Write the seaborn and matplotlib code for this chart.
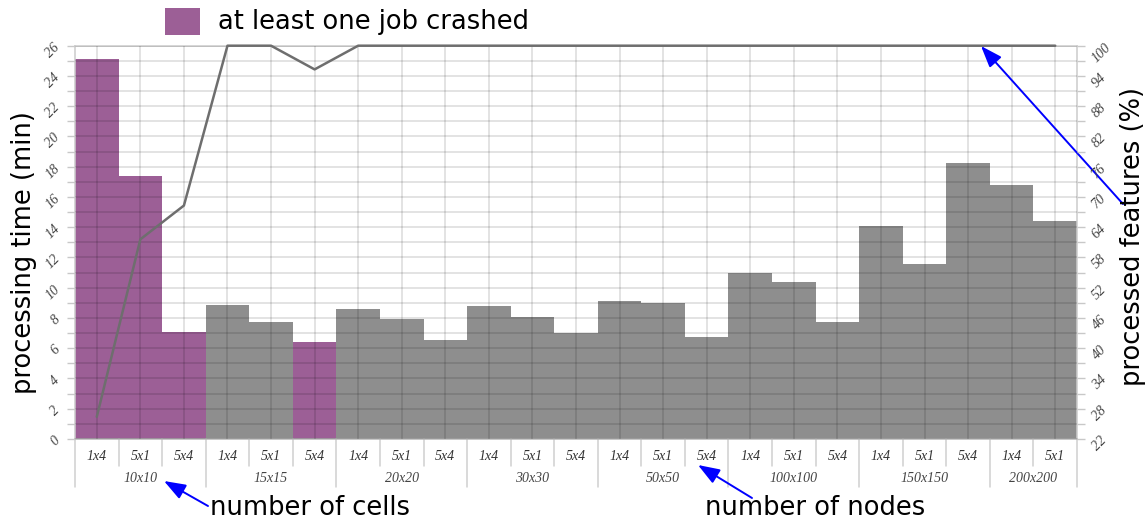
import matplotlib
matplotlib.use("Agg")
import matplotlib.pyplot as plt
from matplotlib.patches import Rectangle
from matplotlib.ticker import MultipleLocator, FixedLocator
import seaborn as sns
import pandas as pd
import numpy as np

# ---------------- data ----------------
cells = ["10x10", "15x15", "20x20", "30x30", "50x50", "100x100", "150x150", "200x200"]
nodes = ["1x4", "5x1", "5x4", "1x4", "5x1", "5x4", "1x4", "5x1", "5x4", "1x4", "5x1", "5x4",
         "1x4", "5x1", "5x4", "1x4", "5x1", "5x4", "1x4", "5x1", "5x4", "1x4", "5x1"]
group_sizes = [3, 3, 3, 3, 3, 3, 3, 2]
time_min = [25.1, 17.4, 7.05, 8.84, 7.73, 6.41, 8.57, 7.95, 6.54, 8.81, 8.04, 6.98,
            9.14, 9.02, 6.72, 10.95, 10.36, 7.71, 14.08, 11.55, 18.26, 16.81, 14.41]
crashed = [True, True, True, False, False, True, False, False, False, False, False, False,
           False, False, False, False, False, False, False, False, False, False, False]
features_pct = [26.4, 61.6, 68.3, 100, 100, 95.3, 100, 100, 100, 100, 100, 100,
                100, 100, 100, 100, 100, 100, 100, 100, 100, 100, 100]
left_ticks = list(range(0, 27, 2))
right_ticks = list(range(22, 101, 6))
legend_label = "at least one job crashed"

PURPLE = "#9c5f96"
GRAY = "#8e8e8e"
W, H = 1148, 519

df = pd.DataFrame({"idx": np.arange(len(time_min)), "time": time_min,
                   "crashed": crashed, "features": features_pct})

sns.set_style("white")
plt.rcParams["font.family"] = ["DejaVu Sans"]

fig = plt.figure(figsize=(W / 100, H / 100), dpi=100)
ax = fig.add_axes([75 / W, 1 - 439 / H, (1077 - 75) / W, (439 - 45.7) / H])

sns.barplot(data=df, x="idx", y="time", hue="crashed",
            palette={True: PURPLE, False: GRAY}, dodge=False, width=1.0,
            saturation=1, legend=False, ax=ax, linewidth=0)

ax.set_ylim(0, 26)
ax.yaxis.set_major_locator(FixedLocator(left_ticks))
ax.yaxis.set_minor_locator(MultipleLocator(1))
ax.set_axisbelow(False)
ax.grid(axis="y", which="both", color="black", alpha=0.14, lw=1.1, zorder=3)
ax.grid(axis="x", which="major", color="black", alpha=0.14, lw=1.1, zorder=3)
ax.set_xlabel("")
ax.set_ylabel("")

tick_font = dict(family="Liberation Serif", style="italic")
ax.tick_params(axis="y", which="both", left=True, length=6, width=1,
               color="#c8c8c8", pad=3, labelsize=10, labelcolor="#444444",
               labelrotation=45)
for lbl in ax.get_yticklabels():
    lbl.set_fontfamily("Liberation Serif")
    lbl.set_fontstyle("italic")

ax.set_xticks(range(len(nodes)))
ax.set_xticklabels(nodes, fontsize=10, color="#333333", **tick_font)
ax.tick_params(axis="x", length=0, pad=8)

for side in ["left", "right", "top", "bottom"]:
    ax.spines[side].set_color("#cccccc")
    ax.spines[side].set_linewidth(1.1)
ax.spines["bottom"].set_color("#b8b8b8")

# twin axis for processed features
ax2 = ax.twinx()
sns.lineplot(data=df, x="idx", y="features", ax=ax2, color="#6e6e6e", lw=1.8,
             clip_on=False, zorder=5)
ax2.set_ylim(22, 100)
ax2.yaxis.set_major_locator(FixedLocator(right_ticks))
ax2.yaxis.set_minor_locator(FixedLocator([t + 3 for t in right_ticks[:-1]]))
ax2.tick_params(axis="y", which="both", right=True, length=6, width=1,
                color="#c8c8c8", pad=3, labelsize=10, labelcolor="#444444",
                labelrotation=45)
for lbl in ax2.get_yticklabels():
    lbl.set_fontfamily("Liberation Serif")
    lbl.set_fontstyle("italic")
ax2.set_xlabel("")
ax2.set_ylabel("")
for side in ["left", "right", "top", "bottom"]:
    ax2.spines[side].set_visible(False)
ax.set_xlim(-0.5, len(nodes) - 0.5)

# category separators and group labels
trans = ax.get_xaxis_transform()
ybot_short = -(466 - 439) / (439 - 45.7)
ybot_long = -(487 - 439) / (439 - 45.7)
ygroup = -(479 - 439) / (439 - 45.7)
bounds = np.concatenate([[0], np.cumsum(group_sizes)])
group_edges = set(bounds.tolist())
for k in range(len(nodes) + 1):
    yb = ybot_long if k in group_edges else ybot_short
    ax.plot([k - 0.5, k - 0.5], [0, yb], transform=trans, color="#d0d0d0",
            lw=1.1, clip_on=False)
for g, name in enumerate(cells):
    center = (bounds[g] + bounds[g + 1]) / 2 - 0.5
    ax.text(center, ygroup, name, transform=trans, ha="center", va="center",
            fontsize=10, color="#444444", **tick_font)

# axis titles
fig.text(24 / W, 1 - 253 / H, "processing time (min)", rotation=90,
         ha="center", va="center", fontsize=18.5, color="black")
fig.text(1133 / W, 1 - 237 / H, "processed features (%)", rotation=90,
         ha="center", va="center", fontsize=18.5, color="black")

# legend
fig.add_artist(Rectangle((165 / W, 1 - 35 / H), 35 / W, 27 / H,
                         transform=fig.transFigure, color=PURPLE, lw=0))
fig.text(218 / W, 1 - 22 / H, legend_label, ha="left", va="center",
         fontsize=18.5, color="black")

# annotations
def arrow(tip, tail):
    ax.annotate("", xy=(tip[0] / W, 1 - tip[1] / H), xycoords="figure fraction",
                xytext=(tail[0] / W, 1 - tail[1] / H), textcoords="figure fraction",
                arrowprops=dict(arrowstyle="-|>,head_length=0.6,head_width=0.22",
                                color="#0000ff", lw=1.4,
                                mutation_scale=22, shrinkA=0, shrinkB=0),
                annotation_clip=False)

arrow((164, 481), (208, 506))
arrow((698, 465), (752, 498))
arrow((981, 46), (1123, 204))
fig.text(210 / W, 1 - 515 / H, "number of cells", ha="left", va="baseline",
         fontsize=18.5, color="black")
fig.text(705 / W, 1 - 515 / H, "number of nodes", ha="left", va="baseline",
         fontsize=18.5, color="black")

fig.savefig("out.png", dpi=100)
